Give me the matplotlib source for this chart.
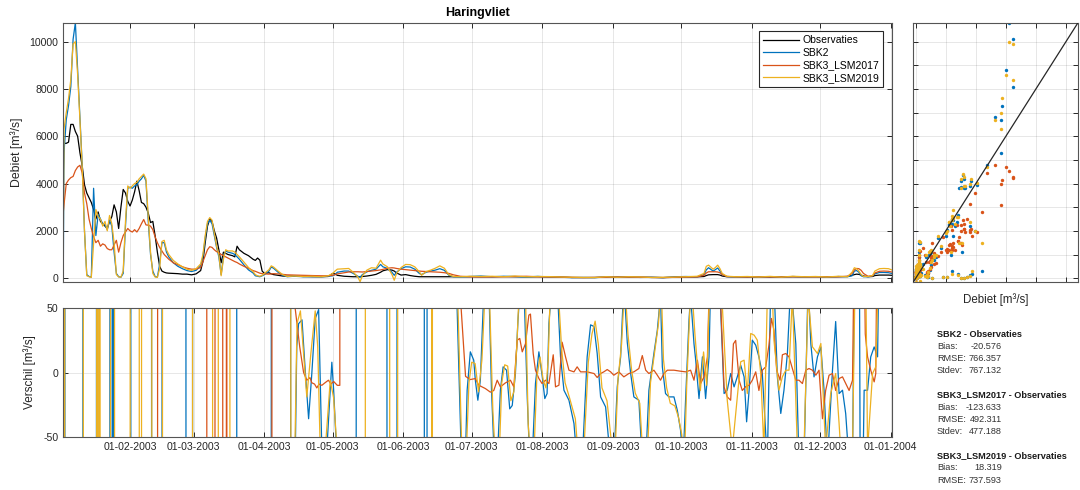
import datetime as dt

import matplotlib
matplotlib.use("Agg")
import matplotlib.pyplot as plt
import matplotlib.dates as mdates
import numpy as np

plt.rcParams["font.family"] = ["Liberation Sans", "DejaVu Sans"]
plt.rcParams["axes.unicode_minus"] = False

START = dt.datetime(2003, 1, 1)

# daily discharge at Haringvliet [m3/s], day number counted from 1 Jan 2003
days = [1.7, 2, 3, 4, 5, 6, 7, 8, 9, 10,
        11, 12, 13, 14, 15, 16, 17, 18, 19, 20,
        21, 22, 23, 24, 25, 26, 27, 28, 29, 30,
        31, 32, 33, 34, 35, 36, 37, 38, 39, 40,
        41, 42, 43, 44, 45, 46, 47, 48, 50, 52,
        54, 56, 58, 60, 62, 63, 64, 65, 66, 67,
        68, 69, 70, 71, 72, 73, 74, 76, 77, 78,
        79, 81, 83, 85, 86, 87, 88, 89, 90, 92,
        93, 94, 96, 98, 100, 103, 107, 111, 115, 118,
        120, 121, 122, 125, 127, 129, 131, 132, 133, 135,
        137, 139, 141, 142, 144, 146, 147, 148, 150, 152,
        154, 156, 158, 159, 161, 163, 165, 167, 169, 171,
        173, 176, 180, 185, 190, 195, 200, 205, 210, 215,
        220, 225, 230, 235, 240, 245, 250, 255, 260, 265,
        270, 275, 280, 283, 284, 285, 287, 288, 289, 290,
        291, 293, 297, 302, 307, 312, 317, 322, 327, 332,
        337, 342, 346, 348, 349, 350, 351, 352, 353, 355,
        357, 358, 360, 362, 364, 365.4]

obs = [4400, 5700, 5700, 5750, 6500, 6500, 6200, 6000, 5300, 4750,
       3950, 3600, 3400, 3200, 2900, 2500, 2800, 2400, 2300, 2200,
       2100, 2400, 2600, 3100, 2800, 2100, 3000, 3750, 3600, 3250,
       3050, 3300, 3650, 4100, 3700, 3200, 3150, 3000, 2750, 2350,
       2400, 1800, 1100, 500, 300, 250, 220, 210, 200, 190,
       170, 170, 140, 180, 320, 700, 1500, 2200, 2500, 2400,
       2000, 1700, 1200, 650, 1100, 1050, 1000, 950, 900, 1350,
       1200, 1050, 950, 800, 750, 850, 760, 300, 200, 230,
       180, 150, 120, 90, 80, 90, 70, 60, 60, 70,
       200, 180, 120, 80, 70, 60, 60, 60, 70, 90,
       120, 160, 250, 310, 360, 340, 300, 220, 130, 150,
       110, 80, 60, 60, 60, 60, 60, 60, 60, 60,
       60, 60, 60, 55, 60, 65, 60, 55, 60, 55,
       45, 30, 25, 30, 40, 50, 45, 40, 30, 25,
       35, 50, 55, 70, 110, 140, 150, 150, 150, 130,
       90, 60, 55, 50, 55, 50, 55, 60, 55, 60,
       55, 60, 70, 120, 150, 170, 160, 130, 90, 60,
       70, 110, 130, 130, 130, 120]

sbk2 = [300, 5300, 6700, 7300, 8100, 10100, 10800, 8800, 6800, 4800,
        2000, 150, 70, 40, 3800, 1800, 2700, 2500, 2300, 2250,
        2050, 2450, 2200, 1100, 200, 60, 40, 200, 2200, 3800,
        3850, 3800, 3900, 3950, 4100, 4200, 4350, 4100, 2400, 1000,
        300, 70, 40, 600, 1500, 1500, 1100, 900, 650, 500,
        400, 320, 280, 330, 520, 900, 1700, 2300, 2450, 2300,
        1800, 1300, 900, 150, 900, 1150, 1100, 1050, 1000, 900,
        800, 560, 350, 220, 100, 80, 60, 100, 150, 300,
        470, 420, 250, 120, 60, 80, 60, 70, 60, 80,
        100, 150, 250, 300, 300, 200, 80, 40, 150, 270,
        330, 380, 580, 480, 410, 250, 120, 250, 400, 480,
        470, 380, 200, 150, 250, 300, 340, 400, 330, 120,
        60, 50, 70, 90, 60, 80, 70, 50, 75, 50,
        40, 20, 30, 20, 50, 60, 50, 30, 40, 20,
        60, 70, 60, 150, 350, 440, 300, 360, 430, 300,
        150, 70, 50, 60, 45, 60, 40, 70, 50, 65,
        40, 70, 60, 100, 300, 320, 250, 100, 60, 60,
        90, 180, 240, 240, 230, 200]

lsm2017 = [2800, 3100, 4000, 4150, 4250, 4300, 4550, 4700, 4770, 4450,
           3600, 3150, 2500, 2100, 1750, 1500, 1600, 1350, 1450, 1400,
           1250, 1200, 1200, 1400, 1600, 1100, 1500, 1800, 1950, 2100,
           2000, 1950, 2050, 1950, 2100, 2300, 2480, 2250, 2240, 2200,
           2050, 1750, 1500, 1300, 1150, 1000, 900, 800, 650, 570,
           480, 420, 380, 380, 450, 700, 950, 1200, 1330, 1300,
           1200, 1120, 1080, 1000, 950, 900, 850, 750, 700, 660,
           600, 500, 420, 320, 290, 250, 210, 190, 180, 170,
           180, 190, 180, 160, 140, 130, 120, 110, 100, 100,
           120, 150, 180, 230, 260, 270, 270, 265, 260, 280,
           300, 320, 350, 370, 420, 440, 430, 410, 380, 360,
           340, 320, 300, 290, 280, 270, 260, 250, 230, 200,
           140, 80, 60, 55, 55, 60, 70, 80, 60, 50,
           45, 30, 25, 30, 40, 50, 45, 40, 30, 25,
           35, 50, 55, 120, 220, 270, 270, 270, 260, 230,
           150, 70, 55, 50, 55, 50, 50, 60, 55, 55,
           55, 60, 80, 200, 350, 410, 400, 330, 200, 80,
           100, 220, 290, 300, 290, 260]

lsm2019 = [1500, 6300, 7000, 7600, 8400, 9900, 10000, 8600, 6700, 4700,
           2000, 100, 60, 30, 1500, 2900, 2600, 2500, 2200, 2400,
           2000, 2650, 2300, 1500, 150, 50, 40, 300, 2400, 3900,
           3800, 3900, 4000, 4050, 4200, 4300, 4400, 4200, 2600, 1100,
           200, 50, 30, 400, 1550, 1600, 1200, 1000, 750, 600,
           480, 380, 330, 400, 600, 1000, 1800, 2400, 2560, 2450,
           1900, 1350, 1000, 100, 800, 1200, 1150, 1150, 1100, 1000,
           900, 680, 450, 280, 150, 100, 80, 120, 200, 360,
           520, 470, 300, 150, 70, 90, 70, 80, 60, 100,
           200, 300, 380, 400, 410, 250, 50, -150, 100, 340,
           440, 420, 760, 600, 480, 150, -90, 200, 450, 580,
           570, 480, 270, 120, 280, 340, 420, 520, 420, 140,
           70, 60, 80, 70, 80, 60, 90, 60, 70, 65,
           50, 40, 30, 25, 60, 40, 60, 50, 30, 35,
           45, 60, 80, 200, 500, 550, 380, 450, 550, 400,
           200, 80, 60, 70, 50, 75, 45, 80, 60, 70,
           50, 80, 60, 250, 440, 400, 300, 150, 70, 70,
           110, 300, 400, 410, 400, 350]

# model minus observation (day, m3/s); far outside the +/-50 window during floods
verschil_sbk2 = [
    (1.0, -1500), (2.2, -1500), (2.6, 1500), (10.1, 1500), (10.5, -1500),
    (16.1, -1500), (16.4, 1500), (16.7, 1500), (17.0, -1500), (22.0, -1500),
    (22.3, 1500), (23.0, 1500), (23.3, -1500), (23.5, -1500), (23.8, 1500),
    (23.9, 1500), (24.2, -1500), (31.2, -1500), (31.5, 1500), (40.3, 1500),
    (40.6, -1500), (44.9, -1500), (45.2, 1500), (55.4, 1500), (55.7, -1500),
    (58.3, -1500), (58.6, 1500), (77.7, 1500), (78.0, -1500), (92.8, -1500),
    (93.2, 1500), (101.0, 1500), (101.6, -300), (102.5, -200), (104.2, 20),
    (105.0, 38), (106.5, 41), (107.9, 2), (109.4, -36), (110.8, -1),
    (112.3, 42), (113.8, 49), (115.2, -60), (117.4, -60), (119.6, 8),
    (120.4, -14), (121.5, -55), (130.1, -1500), (130.5, 1500), (143.6, 1500),
    (144.0, -1500), (148.0, -1500), (148.4, 1500), (160.0, 1500), (160.4, -1500),
    (161.2, -1500), (161.6, 1500), (173.0, 150), (177.0, -100), (178.2, -70),
    (179.0, -13.8), (180.4, 16.1), (181.9, 9.6), (182.6, -6), (183.7, -21.6),
    (184.8, -6), (186.0, 48.8), (187.0, 70), (188.5, 70), (189.7, -14),
    (191.0, -70), (192.2, -70), (193.6, -13.8), (194.8, 4.4), (196.3, 1.8),
    (197.7, -28.3), (198.8, -25.7), (200.2, -0.8), (201.3, 40), (202.4, 70),
    (203.9, 70), (205.4, -20), (206.5, -70), (207.5, -70), (209.0, -8.6),
    (210.5, 16.1), (211.9, -2.1), (213.1, -20.3), (214.1, -16.4), (214.9, 38.2),
    (216.3, 70), (218.5, 70), (220.0, 12.2), (221.5, -13.8), (223.7, -21.6),
    (225.9, -39.7), (227.3, -70), (229.5, -70), (231.7, 12.2), (233.2, 37.1),
    (234.7, 35.8), (236.1, 14.8), (237.6, -19), (239.8, -26.8), (242.0, -70),
    (243.4, -70), (244.9, -11.2), (246.4, 12.2), (247.8, 70), (249.3, 23.6),
    (250.8, -0.8), (252.2, -19), (254.4, -21.6), (255.9, -70), (257.4, -70),
    (258.8, -13.8), (261.0, 14.8), (262.5, 32.9), (263.9, 60), (264.7, 4.4),
    (266.1, -16.4), (267.6, -19), (269.8, -19), (271.3, -29.6), (272.7, -45),
    (273.8, -70), (274.9, -21.6), (276.4, 40.5), (277.1, 60), (278.6, 22.3),
    (279.3, 10.6), (280.8, -20.3), (282.3, 12.2), (283.7, -20.3), (285.2, 12.2),
    (285.9, 70), (287.0, 300), (289.5, 300), (290.3, 49), (291.8, -16.4),
    (293.2, -13.8), (294.7, -0.8), (296.2, -11.2), (297.6, -3.4), (299.1, 5.7),
    (300.6, -3.4), (301.7, -38.4), (302.8, -13.8), (304.2, 25.2), (305.7, 21.3),
    (307.1, 12.2), (308.6, -0.8), (310.8, -70), (312.3, 70), (313.7, 70),
    (315.2, -3.4), (316.7, -31.9), (318.1, -13.8), (319.6, 14.8), (321.1, 70),
    (323.3, 22.3), (324.7, -70), (326.9, -70), (328.7, 70), (329.9, 22.3),
    (331.3, -3.4), (332.8, 12.2), (334.3, 19.9), (335.7, -13.8), (337.2, -70),
    (339.4, 1.8), (340.8, 39.7), (342.3, -16.4), (343.8, -13.8), (345.2, -32),
    (346.7, -70), (348.2, -70), (349.6, 200), (351.0, 200), (351.8, -200),
    (353.3, -13.8), (354.8, -13.8), (356.2, 12.2), (357.7, 19.9), (359.2, 12.2),
    (359.9, 100), (365.5, 150)]

verschil_lsm2017 = [
    (1.0, -1500), (42.9, -1500), (43.3, 1500), (64.5, 1500), (64.9, -1500),
    (68.1, -1500), (68.5, 1500), (71.5, 1500), (71.9, -1500), (73.2, -1500),
    (73.4, 1500), (73.6, -1500), (93.1, -1500), (93.5, 1500), (102.5, 150),
    (103.5, 50), (105.5, 20), (107.2, 0), (108.6, -6), (110.0, -4),
    (110.8, -8), (112.0, -9), (113.0, -12), (114.0, -9), (115.2, -10),
    (116.6, -8), (118.1, -6), (119.2, -9), (120.4, -7), (122.0, -10),
    (123.1, -10), (123.5, 1500), (175.0, 200), (176.0, 60), (178.3, -3),
    (180.4, -5.5), (182.6, -4.7), (184.1, -9.9), (185.6, -11.2), (187.0, -12.5),
    (189.2, -15.3), (190.7, -14.0), (192.2, -6.0), (193.6, -11.2), (195.8, -8.1),
    (198.0, -6.0), (199.5, -11.2), (201.0, 25.2), (202.1, 26.5), (203.2, 16.1),
    (204.6, 22.3), (206.1, 44.7), (206.8, 45.5), (208.0, 14.8), (209.0, 1.8),
    (210.5, -4.7), (211.9, -8.6), (213.4, -6.0), (214.9, -8.6), (216.8, 13.8),
    (217.8, -11.2), (219.3, -9.9), (220.7, 23.6), (222.2, 12.2), (223.7, 1.8),
    (225.9, 0.5), (227.3, 4.4), (228.8, 0.5), (231.7, 0.5), (234.7, -0.8),
    (236.1, -3.9), (237.6, -0.8), (239.0, 0.5), (240.5, 2.3), (242.0, 0.5),
    (243.4, -2.1), (245.6, 0.5), (247.8, -3.4), (250.0, -0.8), (252.2, 0.5),
    (254.4, 3.1), (255.9, 13.2), (257.4, 1.8), (258.8, -0.8), (261.0, 1.8),
    (262.5, -2.1), (263.9, -6.0), (265.4, -0.8), (266.9, 1.8), (269.8, 1.8),
    (272.7, 1.0), (275.0, 0.5), (277.1, 1.8), (278.6, -6.0), (280.1, 9.6),
    (281.5, -8.6), (283.0, -3.4), (284.5, 12.2), (285.2, 60), (286.5, 120),
    (289.0, 120), (290.3, 55), (291.8, -11.2), (293.2, -19), (294.7, -21.6),
    (295.9, 22.3), (296.9, 25), (298.4, -6), (299.8, -14), (301.3, -11),
    (302.8, -9.9), (304.2, -6), (305.7, 0.5), (307.1, -14), (308.6, 1.8),
    (310.1, 4.4), (311.5, 21.3), (312.6, 42.1), (313.7, 33), (314.9, 1.8),
    (316.4, -6), (317.4, 13.8), (318.9, 14.8), (320.3, 12.2), (321.8, 3.1),
    (323.3, -6), (324.7, -6), (326.2, -8.6), (327.7, 1.8), (329.1, 3.1),
    (330.6, 1.8), (332.1, -2.1), (333.5, 1.8), (335.0, -36), (336.4, -14),
    (337.9, -2.1), (339.4, -0.8), (340.8, -14), (342.3, -4.7), (343.8, -3.4),
    (345.2, -8.6), (346.7, -14), (348.2, -6), (349.6, 200), (353.0, 150),
    (353.8, 30), (354.8, 12.2), (356.2, 1.8), (357.7, -7.3), (358.4, -0.8),
    (359.2, 150), (365.5, 150)]

verschil_lsm2019 = [
    (1.0, -1500), (2.1, -1500), (2.5, 1500), (10.3, 1500), (10.7, -1500),
    (16.2, -1500), (16.5, 1500), (16.7, 1500), (17.0, -1500), (17.3, -1500),
    (17.6, 1500), (17.7, 1500), (18.0, -1500), (22.2, -1500), (22.6, 1500),
    (24.0, 1500), (24.4, -1500), (30.9, -1500), (31.2, 1500), (34.9, 1500),
    (35.2, -1500), (35.9, -1500), (36.2, 1500), (40.4, 1500), (40.7, -1500),
    (45.1, -1500), (45.4, 1500), (58.3, 1500), (58.6, -1500), (67.1, -1500),
    (67.4, 1500), (69.6, 1500), (69.9, -1500), (74.7, -1500), (75.0, 1500),
    (101.0, 1500), (101.7, -300), (103.0, -100), (104.3, 38), (105.8, 48),
    (107.2, 15), (108.6, -19), (110.4, 15), (112.3, 48), (113.4, 20),
    (114.5, -60), (116.7, -60), (118.9, -6), (120.4, -20), (121.9, -60),
    (134.1, -1500), (134.5, 1500), (144.8, 1500), (145.2, -1500), (148.3, -1500),
    (148.7, 1500), (163.4, 1500), (163.6, -1500), (163.9, 1500), (173.5, 150),
    (176.8, -70), (178.5, -70), (179.8, -8), (181.0, 8), (182.5, 7),
    (184.0, -15), (185.5, 10), (186.8, 60), (188.8, 60), (190.3, -30),
    (191.5, -70), (193.0, -70), (194.2, -8), (195.5, 6), (196.8, 5),
    (198.2, -22), (199.5, -15), (200.8, 20), (202.0, 70), (204.5, 70),
    (205.8, -40), (207.0, -70), (208.2, -70), (209.6, -4), (211.0, 12),
    (212.4, -6), (213.6, -12), (214.6, 10), (215.6, 70), (218.8, 70),
    (220.5, 18), (222.0, -8), (224.0, -20), (226.5, -36), (228.0, -70),
    (230.0, -70), (232.2, 8), (233.8, 30), (235.2, 40), (236.6, 22),
    (238.2, -12), (240.4, -22), (242.4, -55), (243.8, -70), (245.2, -6),
    (246.8, 22), (248.2, 70), (249.6, 30), (251.2, 2), (252.8, -16),
    (254.8, -24), (256.3, -70), (258.0, -70), (259.5, -8), (261.5, 18),
    (263.0, 38), (264.2, 70), (265.2, 10), (266.6, -12), (268.2, -24),
    (270.2, -26), (271.8, -35), (273.2, -48), (274.4, -70), (275.4, -10),
    (276.8, 50), (277.5, 70), (279.0, 30), (280.0, 8), (281.4, -14),
    (282.8, 16), (284.2, -10), (285.5, 70), (287.0, 400), (289.8, 400),
    (290.5, 70), (293.2, -21.6), (295.4, -60), (299.1, 8.3), (300.6, 9.6),
    (302.0, -16.4), (303.5, 30.4), (305.0, 29.1), (306.4, 25.2), (307.9, -0.8),
    (309.3, -60), (310.8, 60), (313.0, 60), (313.7, 25.2), (315.9, -13.8),
    (317.4, -3.4), (318.9, 1.8), (320.3, 1.8), (321.8, 60), (324.0, -60),
    (326.9, -60), (328.7, 60), (330.6, 20), (332.8, 14.8), (334.3, 22.6),
    (336.4, -60), (338.6, -16.4), (340.8, -0.8), (342.3, -39.7), (343.0, -60),
    (348.2, -60), (350.4, 200), (353.3, 200), (354.8, -60), (357.0, -0.8),
    (358.4, 4.4), (359.9, 100), (365.5, 300)]

series_names = ["SBK2", "SBK3_LSM2017", "SBK3_LSM2019"]
colors = ["#0072BD", "#D95319", "#EDB120"]

# error statistics per model run (last Stdev falls outside the figure)
stat_bias = [-20.576, -123.633, 18.319]
stat_rmse = [766.357, 492.311, 737.593]
stat_stdev = [767.132, 477.188, None]


def to_dates(day_list):
    return [START + dt.timedelta(days=float(d)) for d in day_list]


def style_axes(ax):
    ax.grid(True, color="#262626", alpha=0.13, linewidth=0.6)
    ax.set_axisbelow(True)
    ax.tick_params(direction="in", length=3.5, width=0.7, colors="#262626",
                   labelsize=7.6, top=True, right=True)
    for spine in ax.spines.values():
        spine.set_color("#555555")
        spine.set_linewidth(0.8)


W, H = 1080, 490
fig = plt.figure(figsize=(W / 100, H / 100), dpi=100)


def px_axes(left, top, right, bottom):
    return fig.add_axes([left / W, 1 - bottom / H, (right - left) / W, (bottom - top) / H])


ax_q = px_axes(63.3, 22.7, 891.7, 281.7)
ax_d = px_axes(63.3, 308.3, 891.7, 436.7)
ax_s = px_axes(913.3, 22.7, 1078.0, 282.0)

dates = to_dates(days)
models = [sbk2, lsm2017, lsm2019]
x_lim = (dates[0], dates[-1])

all_values = np.concatenate([obs, sbk2, lsm2017, lsm2019])
q_lo, q_hi = all_values.min(), all_values.max()

# --- discharge time series
ax_q.plot(dates, obs, color="black", lw=0.9, label="Observaties")
for vals, name, c in zip(models, series_names, colors):
    ax_q.plot(dates, vals, color=c, lw=0.9, label=name)
ax_q.set_xlim(x_lim)
ax_q.set_ylim(q_lo, q_hi)
ax_q.set_yticks(np.arange(0, 10001, 2000))
ax_q.xaxis.set_major_locator(mdates.MonthLocator())
ax_q.set_ylabel("Debiet [m³/s]", fontsize=8.8, color="#262626", labelpad=5)
ax_q.set_title("Haringvliet", fontsize=9, fontweight="bold", pad=5)
style_axes(ax_q)
ax_q.tick_params(labelbottom=False)
leg = ax_q.legend(loc="upper right", fontsize=7.5, fancybox=False, framealpha=1,
                  edgecolor="#262626", handlelength=3.4, labelspacing=0.25,
                  borderaxespad=0.8, borderpad=0.4, handletextpad=0.35)
leg.get_frame().set_linewidth(0.8)

# --- differences model - observation
for pairs, c in zip([verschil_sbk2, verschil_lsm2017, verschil_lsm2019], colors):
    d_days, d_vals = zip(*pairs)
    ax_d.plot(to_dates(d_days), d_vals, color=c, lw=0.9)
ax_d.set_xlim(x_lim)
ax_d.set_ylim(-50, 50)
ax_d.set_yticks([-50, 0, 50])
ax_d.xaxis.set_major_locator(mdates.MonthLocator())
ax_d.xaxis.set_major_formatter(mdates.DateFormatter("%d-%m-%Y"))
ax_d.set_ylabel("Verschil [m³/s]", fontsize=8.5, color="#262626", labelpad=5)
style_axes(ax_d)

# --- scatter observation vs model
for vals, c in zip(models, colors):
    ax_s.scatter(obs, vals, s=6, color=c, linewidths=0, zorder=2)
ax_s.plot([q_lo, q_hi], [q_lo, q_hi], color="#262626", lw=0.9, zorder=3)
ax_s.set_xlim(q_lo, q_hi)
ax_s.set_ylim(q_lo, q_hi)
ax_s.set_xticks(np.arange(0, 10001, 2000))
ax_s.set_yticks(np.arange(0, 10001, 1000))
style_axes(ax_s)
ax_s.tick_params(labelbottom=False, labelleft=False)
ax_s.set_xlabel("Debiet [m³/s]", fontsize=8.3, color="#262626", labelpad=8)

# --- statistics text
y0 = 334.3
for i, name in enumerate(series_names):
    y = y0 + i * 60.7
    fig.text(937 / W, 1 - y / H, f"{name} - Observaties", fontsize=6.6,
             fontweight="bold", va="center", color="#1a1a1a")
    rows = [("Bias:", stat_bias[i]), ("RMSE:", stat_rmse[i]), ("Stdev:", stat_stdev[i])]
    for j, (lab, val) in enumerate(rows):
        if val is None:
            continue
        yy = y + (j + 1) * 12.2
        fig.text(937 / W, 1 - yy / H, lab, fontsize=6.6, va="center", color="#333333")
        fig.text(1001.7 / W, 1 - yy / H, f"{val:.3f}", fontsize=6.6, va="center",
                 ha="right", color="#333333")

fig.savefig("out.png", dpi=100)
